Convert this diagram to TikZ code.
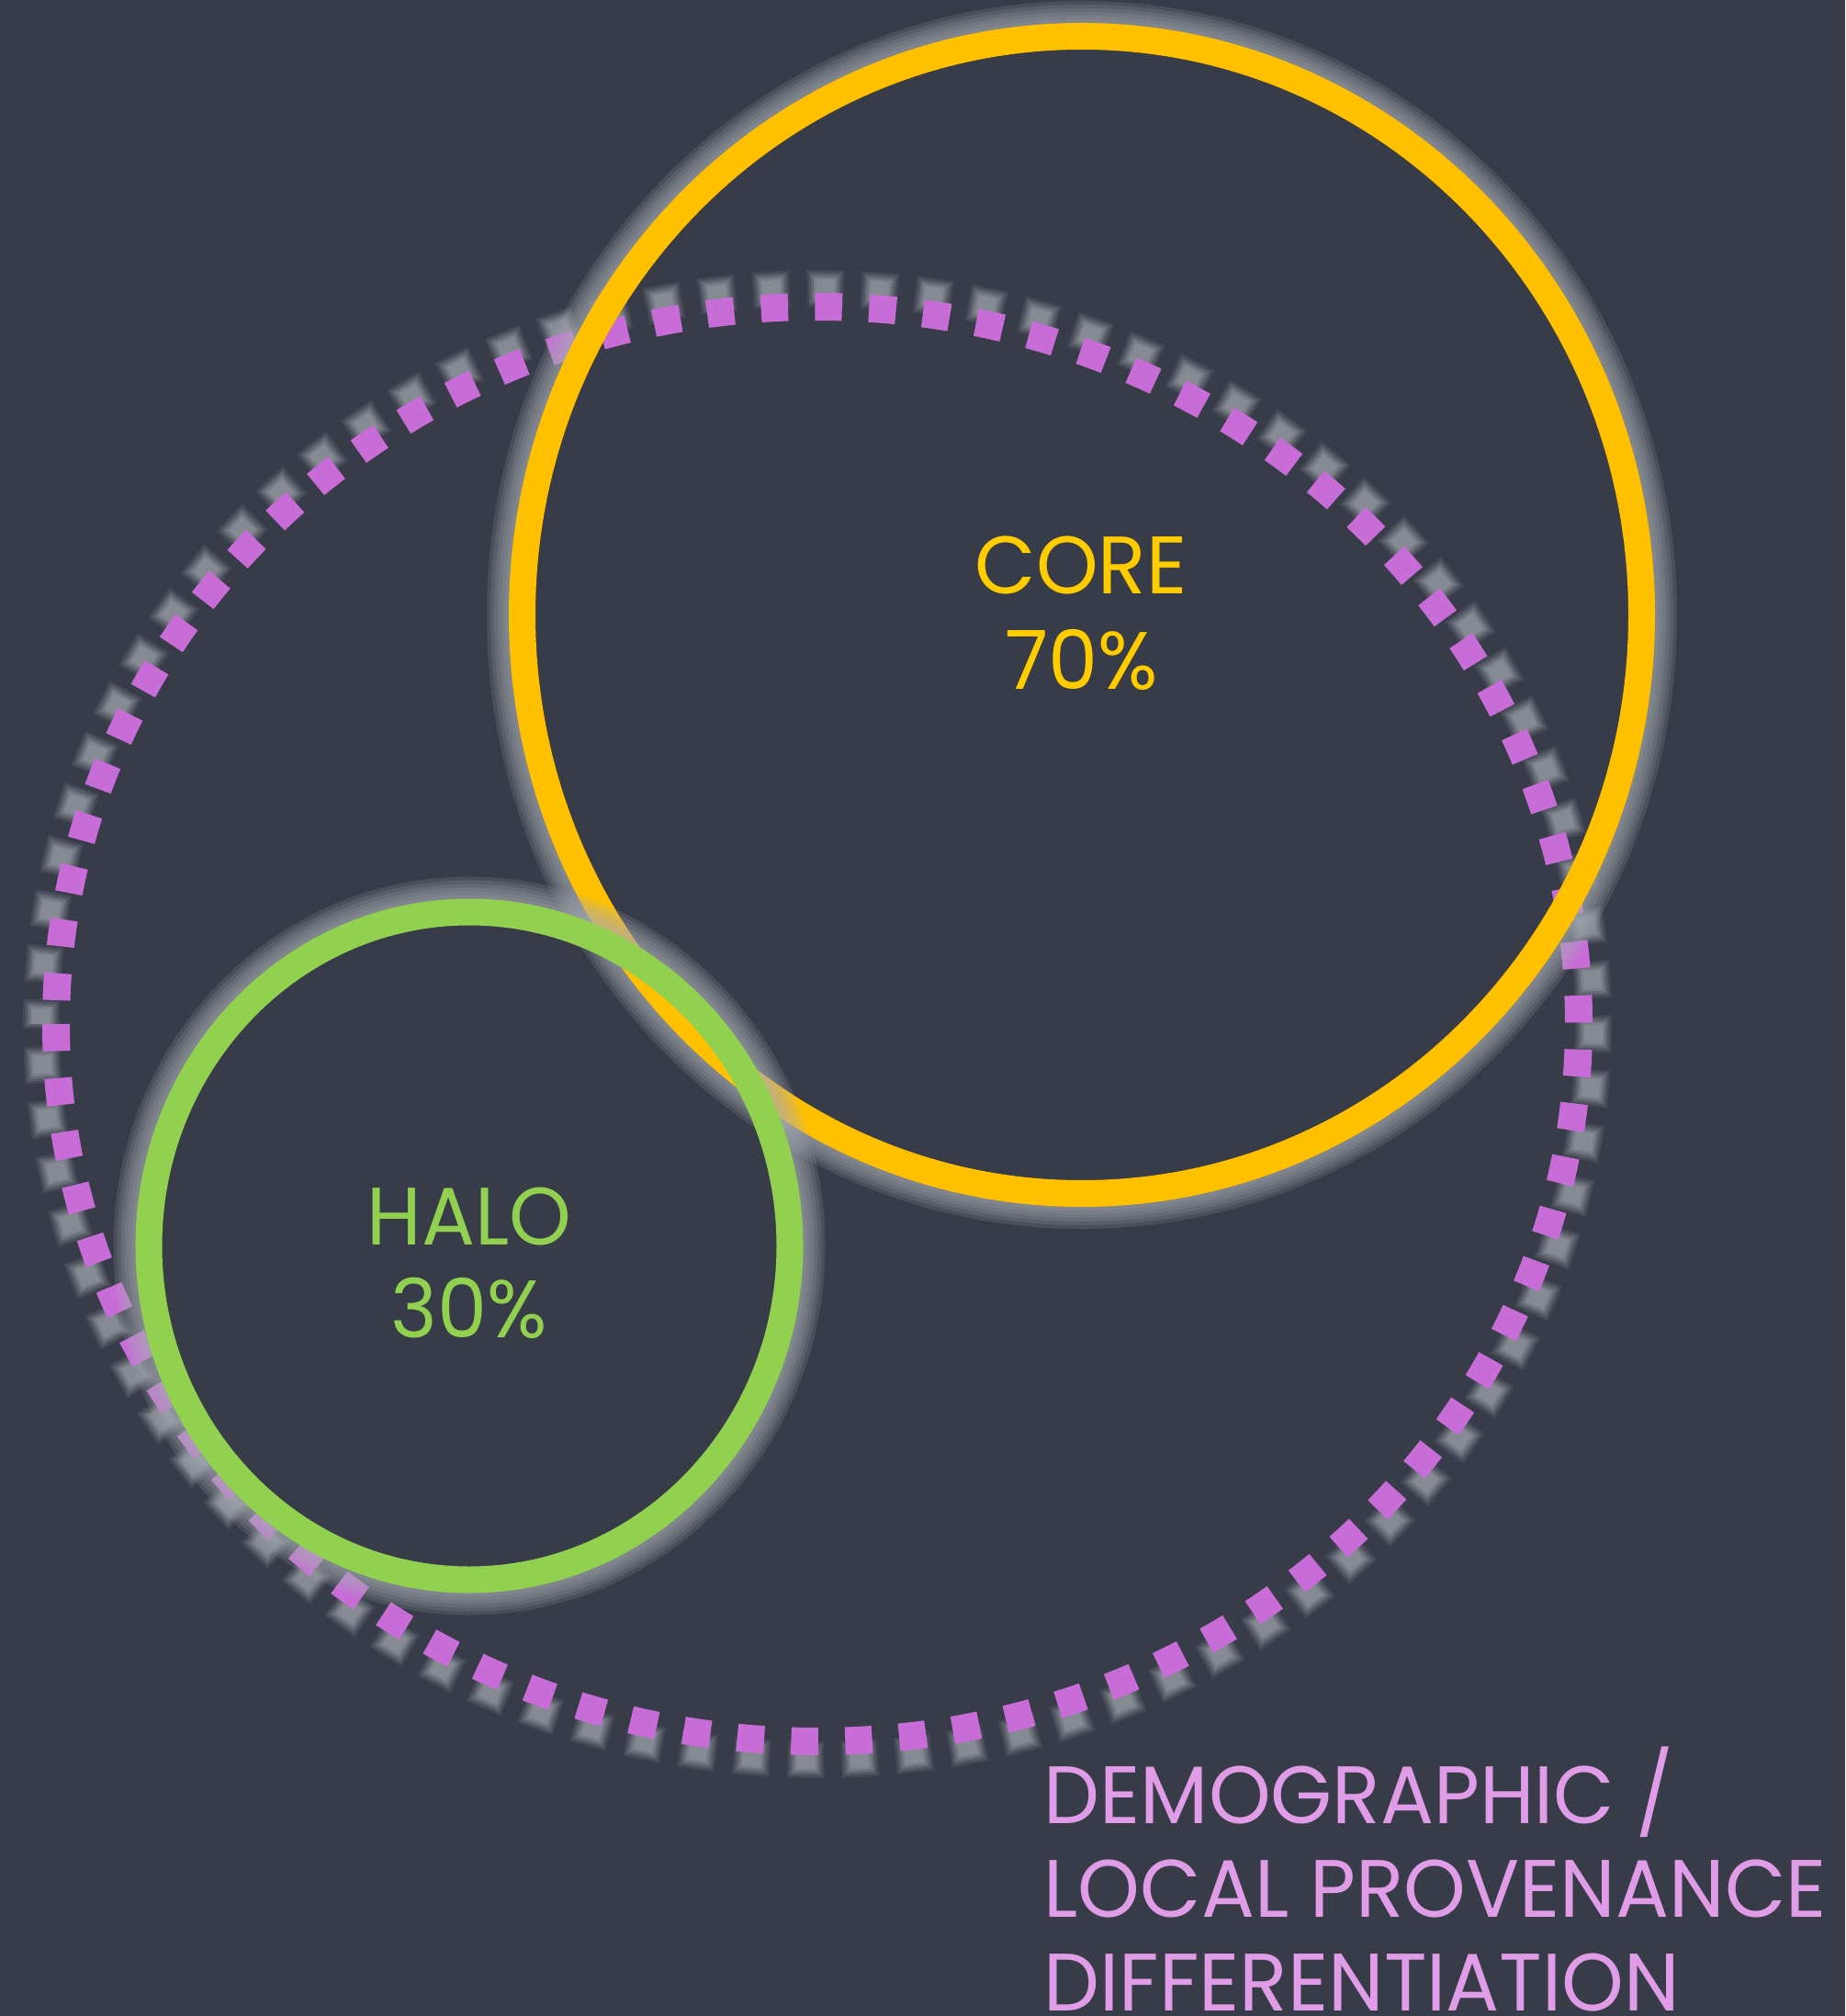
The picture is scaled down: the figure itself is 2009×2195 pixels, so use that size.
\documentclass[tikz,border=0pt]{standalone}
\usepackage{fontspec}
\setmainfont{Poppins}
\definecolor{bg}{HTML}{373C48}
\definecolor{coreyellow}{HTML}{FFC000}
\definecolor{coretext}{HTML}{FFCC00}
\definecolor{halogreen}{HTML}{92D050}
\definecolor{ringpurple}{HTML}{C86DD7}
\definecolor{labelpurple}{HTML}{E09CE7}
\definecolor{haze}{HTML}{A8ADB4}
\tikzset{
  lbl/.style={font=\fontsize{24.5pt}{29.3pt}\selectfont, inner sep=0pt, anchor=base, yscale=1.03},
  sidelbl/.style={lbl, anchor=base west, text=labelpurple},
  ring/.style={line width=0.29cm},
  dotring/.style={ringpurple, line width=0.30cm, dash pattern=on 0.2942cm off 0.2942cm},
}
\begin{document}
\begin{tikzpicture}[x=0.01cm, y=-0.01cm]
  % canvas
  \fill[bg] (0,0) rectangle (2009,2195);
  \useasboundingbox (0,0) rectangle (2009,2195);
  \clip (0,0) rectangle (2009,2195);

  % soft shadow of the dotted boundary
  \foreach \w/\op in {0.40/0.12, 0.35/0.16, 0.30/0.22, 0.25/0.28, 0.20/0.3} {
    \pgfmathsetmacro{\gap}{0.5884-\w}
    \pgfmathsetmacro{\ph}{0.2942+(\w-0.2942)/2}
    \draw[haze, opacity=\op, line width=\w cm,
          dash pattern=on \w cm off \gap cm, dash phase=\ph cm]
      (45,1115) arc[start angle=180, end angle=-180, x radius=845, y radius=801];
  }
  % dotted boundary
  \draw[dotring] (61,1115) arc[start angle=180, end angle=-180, x radius=829, y radius=781];

  % core ring with its halo
  \foreach \d in {4,8,12,16,20,24} {
    \pgfmathsetmacro{\w}{(14.5+\d)*0.01}
    \draw[haze, opacity=0.17, line width=\w cm]
      (1178,669.5) ellipse [x radius={609.5+(14.5+\d)/2}, y radius={630+(14.5+\d)/2}];
  }
  \draw[ring, coreyellow] (1178,669.5) ellipse [x radius=609.5, y radius=630];

  % halo ring with its halo
  \foreach \d in {4,8,12,16,20,24} {
    \pgfmathsetmacro{\w}{(14.5+\d)*0.01}
    \draw[haze, opacity=0.17, line width=\w cm]
      (511,1356.5) ellipse [x radius={349+(14.5+\d)/2}, y radius={363.5+(14.5+\d)/2}];
  }
  \draw[ring, halogreen] (511,1356.5) ellipse [x radius=349, y radius=363.5];

  % labels
  \node[lbl, text=coretext] (core) at (1177,647) {CORE};
  \node[lbl, text=coretext] (corepct) at (1178,750) {70\%};
  \node[lbl, text=halogreen] (halo) at (511,1355) {HALO};
  \node[lbl, text=halogreen] (halopct) at (511,1456) {30\%};

  \node[sidelbl] (dem1) at (1136,1985) {DEMOGRAPHIC /};
  \node[sidelbl] (dem2) at (1136,2087) {LOCAL PROVENANCE};
  \node[sidelbl] (dem3) at (1136,2189) {DIFFERENTIATION};
\end{tikzpicture}
\end{document}
